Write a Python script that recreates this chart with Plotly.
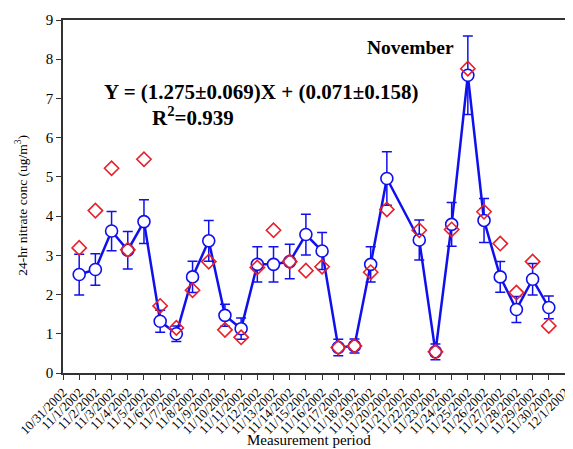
import plotly.graph_objects as go

tick_labels = ["10/31/2002"] + [f"11/{d}/2002" for d in range(1, 31)] + ["12/1/2002"]

day_index = [1, 2, 3, 4, 5, 6, 7, 8, 9, 10, 11, 12, 13, 14, 15, 16, 17, 18, 19, 20,
             22, 23, 24, 25, 26, 27, 28, 29, 30]
measured = [2.51, 2.64, 3.62, 3.13, 3.86, 1.32, 1.0, 2.45, 3.37, 1.47, 1.13, 2.77, 2.77, 2.84, 3.53,
            3.11, 0.65, 0.69, 2.77, 4.96, 3.39, 0.54, 3.79, 7.59, 3.89, 2.45, 1.62, 2.39, 1.67]
errors = [0.52, 0.40, 0.50, 0.48, 0.56, 0.28, 0.20, 0.40, 0.52, 0.28, 0.27, 0.45, 0.45, 0.44, 0.52,
          0.47, 0.21, 0.18, 0.45, 0.68, 0.51, 0.20, 0.56, 1.0, 0.56, 0.39, 0.33, 0.40, 0.29]
predicted = [3.19, 4.14, 5.22, 3.14, 5.45, 1.71, 1.15, 2.11, 2.84, 1.10, 0.91, 2.69, 3.64, 2.84, 2.61,
             2.71, 0.65, 0.69, 2.57, 4.17, 3.64, 0.54, 3.66, 7.76, 4.11, 3.30, 2.05, 2.84, 1.20]

font_family = "Liberation Serif, Times New Roman, serif"

fig = go.Figure()
fig.add_trace(go.Scatter(
    x=day_index, y=measured, mode="lines+markers",
    line=dict(color="#1010ee", width=2.5),
    marker=dict(symbol="circle", size=12, color="white",
                line=dict(color="#1010ee", width=1.6)),
    error_y=dict(type="data", array=errors, visible=True, color="#1010ee",
                 thickness=1.5, width=5),
    showlegend=False,
))
fig.add_trace(go.Scatter(
    x=day_index, y=predicted, mode="markers",
    marker=dict(symbol="diamond-open", size=11, color="#e8202a",
                line=dict(color="#e8202a", width=1.6)),
    showlegend=False,
))

fig.add_annotation(x=2.4, y=7.16, xref="x", yref="y", xanchor="left", yanchor="middle",
                   text="<b>Y = (1.275±0.069)X + (0.071±0.158)</b>", showarrow=False,
                   font=dict(family=font_family, size=21, color="black"))
fig.add_annotation(x=5.36, y=6.55, xref="x", yref="y", xanchor="left", yanchor="middle",
                   text="<b>R<sup>2</sup>=0.939</b>", showarrow=False,
                   font=dict(family=font_family, size=21, color="black"))
fig.add_annotation(x=18.65, y=8.29, xref="x", yref="y", xanchor="left", yanchor="middle",
                   text="<b>November</b>", showarrow=False,
                   font=dict(family=font_family, size=19.5, color="black"))
fig.add_annotation(x=0.49, y=-0.19, xref="paper", yref="paper", xanchor="center", yanchor="middle",
                   text="Measurement period", showarrow=False,
                   font=dict(family=font_family, size=15, color="black"))
fig.add_annotation(x=-0.082, y=0.476, xref="paper", yref="paper", xanchor="center", yanchor="middle",
                   text="24-hr nitrate conc (ug/m<sup>3</sup>)", showarrow=False, textangle=-90,
                   font=dict(family=font_family, size=13.5, color="black"))

fig.update_layout(
    width=565, height=441,
    margin=dict(l=55, r=8, t=12, b=76),
    plot_bgcolor="white", paper_bgcolor="white",
    font=dict(family=font_family, color="black"),
)
fig.update_xaxes(
    range=[0, 31], tickmode="array", tickvals=list(range(32)), ticktext=tick_labels,
    tickangle=-45, tickfont=dict(size=13, family=font_family), ticklabeloverflow="allow",
    ticks="outside", ticklen=5, tickwidth=1.3, tickcolor="#333",
    showline=True, linecolor="#333", linewidth=1.5, mirror=True,
    showgrid=False, zeroline=False, automargin=False,
)
fig.update_yaxes(
    range=[0, 9], tickmode="array", tickvals=list(range(10)),
    tickfont=dict(size=15, family=font_family),
    ticks="outside", ticklen=5, tickwidth=1.3, tickcolor="#333",
    showline=True, linecolor="#333", linewidth=1.5, mirror=True,
    showgrid=False, zeroline=False, automargin=False,
)

fig.write_html("out.html")
